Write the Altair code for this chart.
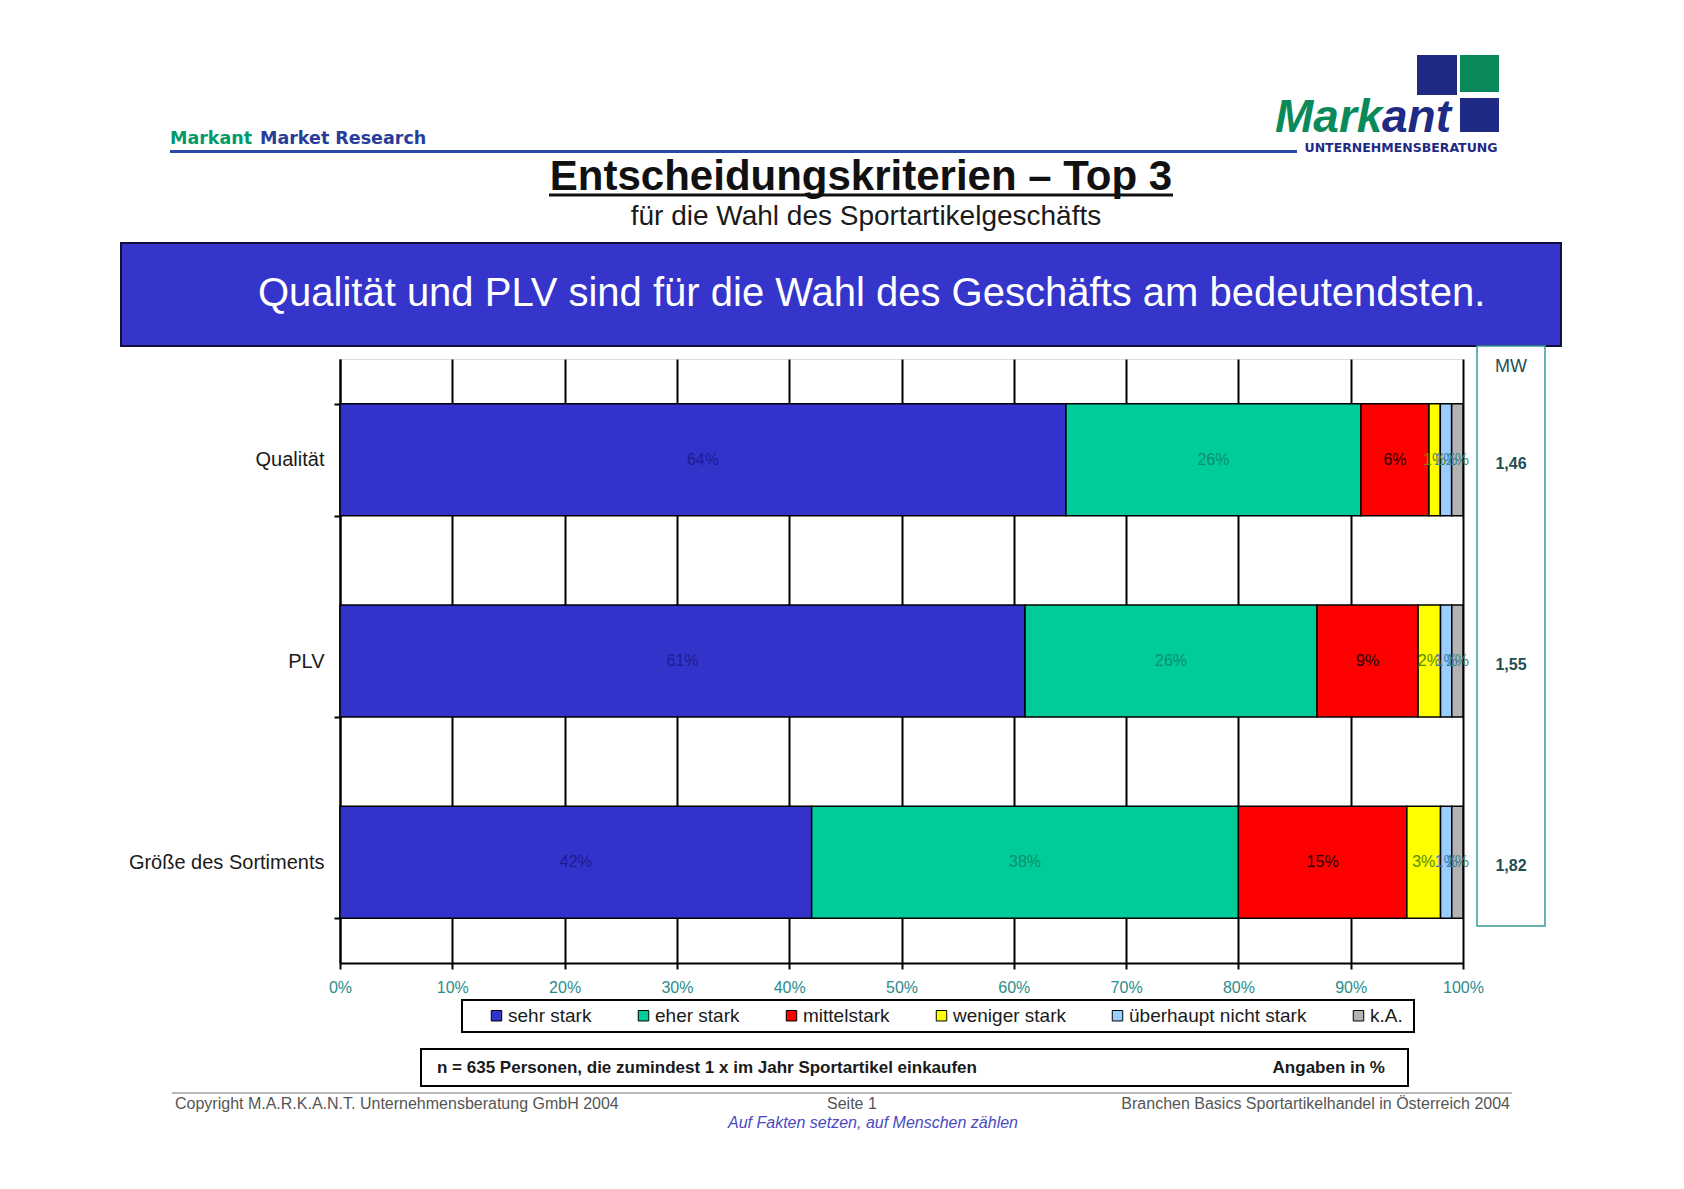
import altair as alt
import pandas as pd

# ---------------- data ----------------
categories = ["Qualität", "PLV", "Größe des Sortiments"]
series = ["sehr stark", "eher stark", "mittelstark", "weniger stark",
          "überhaupt nicht stark", "k.A."]
sehr_stark = [64, 61, 42]
eher_stark = [26, 26, 38]
mittelstark = [6, 9, 15]
weniger_stark = [1, 2, 3]
ueberhaupt_nicht_stark = [1, 1, 1]
k_a = [1, 1, 1]
mw_values = ["1,46", "1,55", "1,82"]
x_ticks = [0, 0.1, 0.2, 0.3, 0.4, 0.5, 0.6, 0.7, 0.8, 0.9, 1.0]

colors = ["#3333cc", "#00cc99", "#ff0000", "#ffff00", "#99ccff", "#b3b3b3"]
label_colors = ["#1c1c8c", "#0d8f6a", "#1a0000", "#5c8a00", "#3d7fb8", "#3f8585"]

all_values = [sehr_stark, eher_stark, mittelstark, weniger_stark,
              ueberhaupt_nicht_stark, k_a]
rows = []
for i, cat in enumerate(categories):
    for j, s in enumerate(series):
        v = all_values[j][i]
        rows.append({"cat": cat, "series": s, "idx": j, "value": v,
                     "label": f"{v}%", "lcolor": label_colors[j]})
df = pd.DataFrame(rows)
mw_df = pd.DataFrame({"cat": categories, "mw": mw_values})
dummy = pd.DataFrame({"d": [0]})

FONT = "Liberation Sans"

# ---------------- scales / encodings ----------------
x_scale = alt.Scale(domain=[0, 1], nice=False, zero=True)
y_scale = alt.Scale(paddingInner=0.444, paddingOuter=0.222)
y_axis = alt.Axis(title=None, tickBand="extent", labelFontSize=20,
                  labelColor="#1a1a1a", labelPadding=10, tickSize=6,
                  tickColor="black", tickWidth=2, domainColor="black",
                  domainWidth=2, grid=False, labelFont=FONT, labelLimit=400)
x_axis = alt.Axis(values=x_ticks, format=".0%", title=None, grid=True,
                  gridColor="black", gridWidth=2, gridOpacity=1,
                  domainColor="black", domainWidth=2, tickColor="black",
                  tickWidth=2, tickSize=6, labelColor="#2a8c8c",
                  labelFontSize=16, labelPadding=10, labelFont=FONT,
                  labelFlush=False)


def y_enc():
    return alt.Y("cat:N", sort=categories, scale=y_scale, axis=y_axis)


base = (
    alt.Chart(df)
    .transform_joinaggregate(total="sum(value)", groupby=["cat"])
    .transform_calculate(pct="datum.value / datum.total")
    .transform_stack(stack="pct", as_=["x0", "x1"], groupby=["cat"],
                     sort=[alt.SortField("idx", order="ascending")])
    .transform_calculate(xm="(datum.x0 + datum.x1) / 2")
)

bars = base.mark_bar(stroke="black", strokeWidth=1.5).encode(
    x=alt.X("x0:Q", scale=x_scale, axis=x_axis),
    x2="x1:Q",
    y=y_enc(),
    color=alt.Color(
        "series:N",
        scale=alt.Scale(domain=series, range=colors),
        legend=alt.Legend(
            title=None, orient="none", legendX=147, legendY=647,
            direction="horizontal", symbolType="square", symbolSize=110,
            symbolStrokeColor="black", symbolStrokeWidth=1,
            labelFontSize=19, labelFont=FONT, labelColor="#1a1a1a",
            columnPadding=42, labelOffset=2, padding=0, labelLimit=400,
        ),
    ),
)

labels = base.mark_text(fontSize=16, font=FONT, baseline="middle").encode(
    x=alt.X("xm:Q", scale=x_scale, axis=x_axis),
    y=y_enc(),
    text="label:N",
    color=alt.Color("lcolor:N", scale=None),
)

mw_text = alt.Chart(mw_df).mark_text(
    fontSize=16, font=FONT, fontWeight="bold", color="#1f4f55",
    baseline="middle", dy=4).encode(
    x=alt.value(1171),
    y=y_enc(),
    text="mw:N",
)


# ---------------- decorations ----------------
def rect(x, x2, y, y2, **kw):
    return alt.Chart(dummy).mark_rect(**kw).encode(
        x=alt.value(x), x2=alt.value(x2), y=alt.value(y), y2=alt.value(y2))


def rule(x, x2, y, y2, **kw):
    return alt.Chart(dummy).mark_rule(**kw).encode(
        x=alt.value(x), x2=alt.value(x2), y=alt.value(y), y2=alt.value(y2))


def text(x, y, s, **kw):
    kw.setdefault("font", FONT)
    kw.setdefault("baseline", "middle")
    return alt.Chart(dummy).mark_text(text=s, **kw).encode(
        x=alt.value(x), y=alt.value(y))


deco = [
    # header
    text(-170, -220.5, "Markant", align="left", font="DejaVu Sans",
         fontWeight="bold", fontSize=17.5, color="#009a6a"),
    text(-80, -220.5, "Market Research", align="left", font="DejaVu Sans",
         fontWeight="bold", fontSize=17.5, color="#283c9a"),
    rule(-170, 957, -207.5, -207.5, color="#2a48a8", strokeWidth=3),
    # logo
    rect(1077, 1117, -304, -264, color="#1f2a85"),
    rect(1120, 1159, -304, -267, color="#0a8a5a"),
    rect(1120, 1159, -261, -227, color="#1f2a85"),
    text(935, -227, "Mark", align="left", baseline="alphabetic",
         fontSize=46, fontWeight="bold", fontStyle="italic", color="#0a8a5a"),
    text(1042, -227, "ant", align="left", baseline="alphabetic",
         fontSize=46, fontWeight="bold", fontStyle="italic", color="#1f2a85"),
    text(1061, -211, "UNTERNEHMENSBERATUNG", align="center",
         font="DejaVu Sans", fontWeight="bold", fontSize=12.5,
         color="#1f2a85"),
    # title
    text(521, -169, "Entscheidungskriterien – Top 3", align="center",
         baseline="alphabetic", fontSize=42, fontWeight="bold",
         color="#111111"),
    rule(209, 833, -164, -164, color="#111111", strokeWidth=3),
    text(526, -142, "für die Wahl des Sportartikelgeschäfts", align="center",
         fontSize=28, color="#1a1a1a"),
    # banner
    rect(-219, 1221, -116, -13, color="#3535cc", stroke="#10103a",
         strokeWidth=2),
    text(531.6, -65,
         "Qualität und PLV sind für die Wahl des Geschäfts am bedeutendsten.",
         align="center", fontSize=40, color="white"),
    # MW box
    rect(1137, 1205, -13, 567, fill="white", stroke="#3a9a9a",
         strokeWidth=1.5),
    text(1171, 8, "MW", align="center", fontSize=18, color="#1f4f55"),
    # legend box
    rect(122, 1074, 641, 673, fill="white", stroke="black", strokeWidth=2),
    # note box
    rect(81, 1068, 690, 727, fill="white", stroke="black", strokeWidth=2),
    text(97, 708.5,
         "n = 635 Personen, die zumindest 1 x im Jahr Sportartikel einkaufen",
         align="left", fontSize=17, fontWeight="bold", color="#1a1a1a"),
    text(1045, 708.5, "Angaben in %", align="right", fontSize=17,
         fontWeight="bold", color="#1a1a1a"),
    # footer
    rule(-168, 1172, 734, 734, color="#707070", strokeWidth=1),
    text(-165, 745, "Copyright  M.A.R.K.A.N.T. Unternehmensberatung GmbH 2004",
         align="left", fontSize=16, color="#555555"),
    text(487, 745, "Seite  1", align="left", fontSize=16, color="#555555"),
    text(1170, 745, "Branchen Basics Sportartikelhandel in Österreich 2004",
         align="right", fontSize=16, color="#555555"),
    text(533, 764, "Auf Fakten setzen, auf Menschen zählen", align="center",
         fontSize=16, fontStyle="italic", color="#4a4ac0"),
]

chart = (
    alt.layer(*deco, bars, labels, mw_text)
    .properties(
        width=1123, height=604,
        padding={"left": 332, "top": 351, "right": 200, "bottom": 200},
        autosize=alt.AutoSizeParams(type="none"),
        background="white",
    )
    .configure_view(stroke="black", strokeWidth=2)
    .configure(font=FONT)
)

chart.save("out.html", embed_options={"renderer": "svg", "actions": False})
